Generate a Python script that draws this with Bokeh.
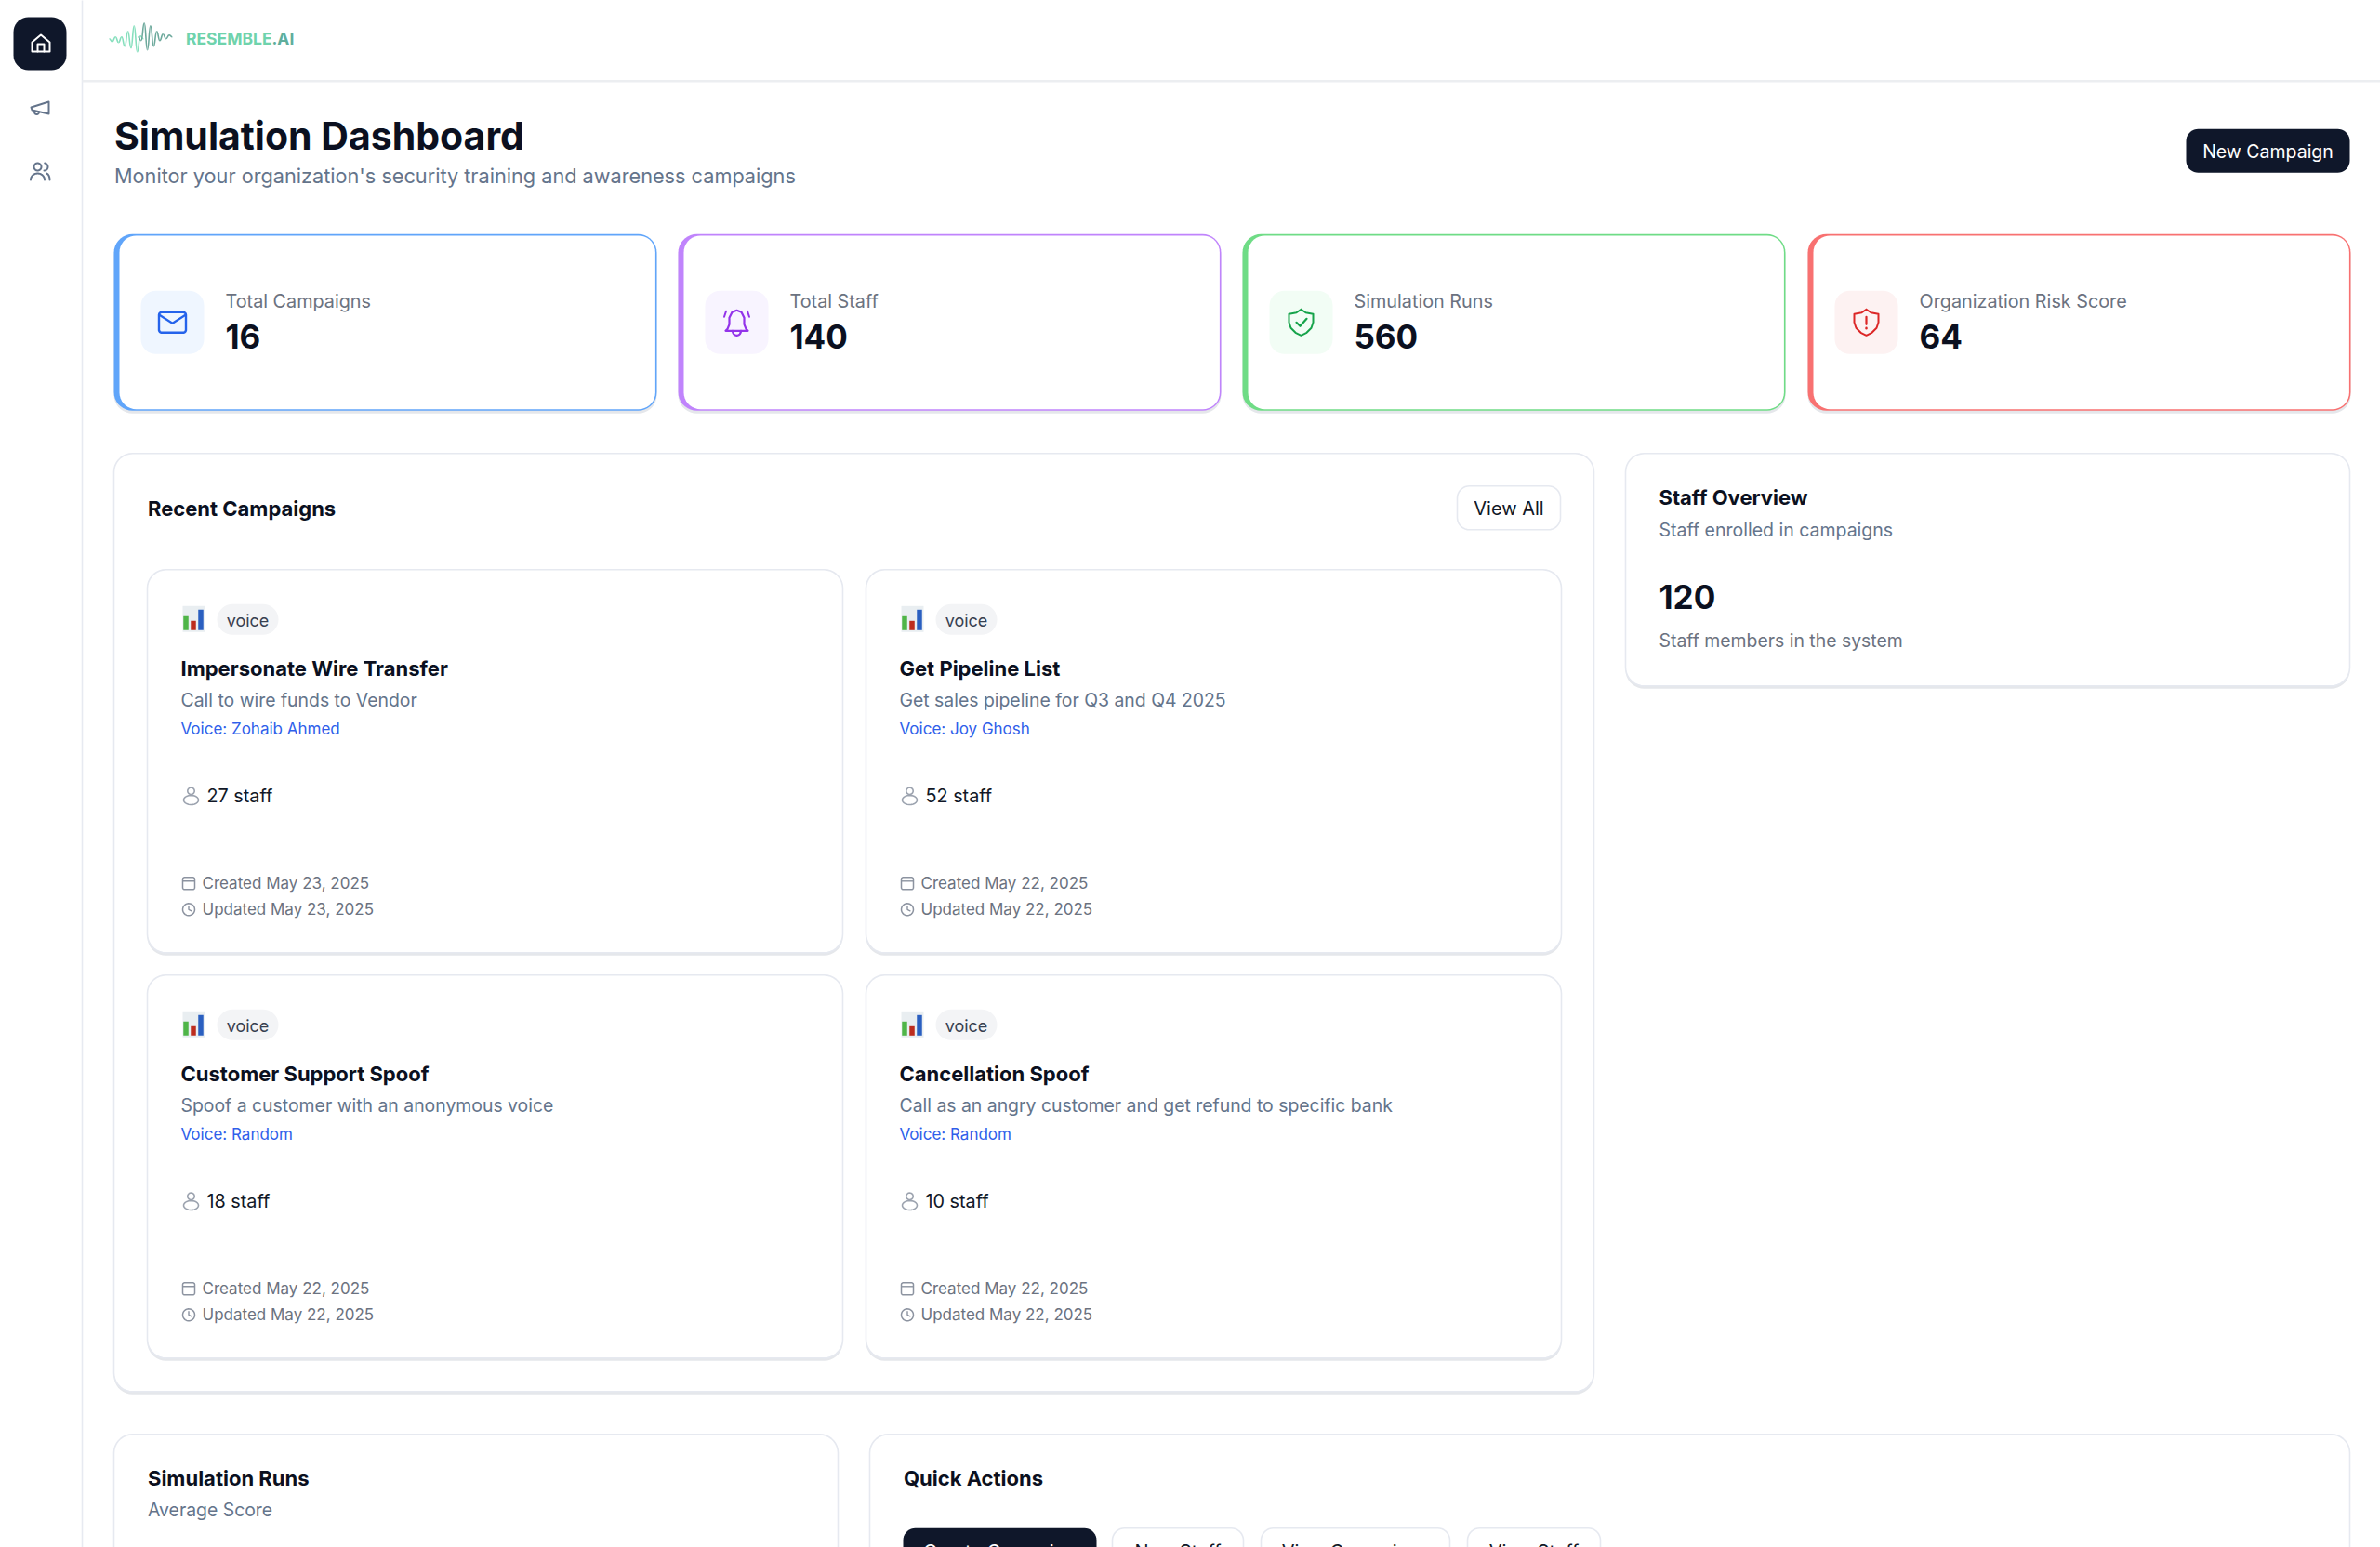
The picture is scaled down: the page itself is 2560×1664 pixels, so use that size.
import numpy as np
from bokeh.core.properties import value
from bokeh.embed import file_html
from bokeh.models import Range1d
from bokeh.plotting import figure
from bokeh.resources import INLINE

# values
stat_labels = ["Total Campaigns", "Total Staff", "Simulation Runs", "Organization Risk Score"]
stat_values = [16, 140, 560, 64]

campaign_titles = ["Impersonate Wire Transfer", "Get Pipeline List", "Customer Support Spoof", "Cancellation Spoof"]
campaign_descs = ["Call to wire funds to Vendor", "Get sales pipeline for Q3 and Q4 2025",
                  "Spoof a customer with an anonymous voice", "Call as an angry customer and get refund to specific bank"]
campaign_voices = ["Zohaib Ahmed", "Joy Ghosh", "Random", "Random"]
campaign_staff = [27, 52, 18, 10]
campaign_created = ["May 23, 2025", "May 22, 2025", "May 22, 2025", "May 22, 2025"]
campaign_updated = ["May 23, 2025", "May 22, 2025", "May 22, 2025", "May 22, 2025"]

staff_total = 120
action_labels = ["Create Campaign", "New Staff", "View Campaigns", "View Staff"]
emoji_bars = [15, 10, 22]
wave_light = [0, -3, 2, -4, 2, -8, 8, -10, 14, -14, 3, 0]
wave_dark = [2, -2, 17, -12, 14, -8, 8, -2, 5, 0, 4, 2]

FONT = "Inter"
DARK = "#0f172a"
INK = "#111827"
GREY = "#6b7280"
SLATE = "#64748b"
BORDER = "#e6e9f0"

# page pixels are used as data units, y runs downwards
p = figure(width=2560, height=1664, output_backend="svg", toolbar_location=None,
           x_range=Range1d(1, 2561), y_range=Range1d(1664.7, 0.7),
           x_axis_type=None, y_axis_type=None, min_border=0)
p.xgrid.visible = False
p.ygrid.visible = False
p.outline_line_color = None
p.background_fill_color = "white"


def rrect(x0, y0, x1, y1, r):
    xs, ys = [], []
    for cx, cy, a in [(x1 - r, y0 + r, -90), (x1 - r, y1 - r, 0), (x0 + r, y1 - r, 90), (x0 + r, y0 + r, 180)]:
        t = np.radians(np.linspace(a, a + 90, 10))
        xs += list(cx + r * np.cos(t))
        ys += list(cy + r * np.sin(t))
    return xs, ys


def box(x0, y0, x1, y1, r, fill="white", line=None, lw=1.6):
    xs, ys = rrect(x0, y0, x1, y1, r)
    p.patch(xs, ys, fill_color=fill, line_color=line, line_width=lw)


def card(x0, y0, x1, y1, r=20):
    # soft shadow first, then the card itself
    box(x0, y0 + 3, x1, y1 + 3, r, fill="#e5e7eb", line=None)
    box(x0, y0, x1, y1, r, fill="white", line=BORDER)


def label(x, y, txt, size, color=INK, bold=False, align="left"):
    p.text([x], [y], text=[txt], text_font=value(FONT), text_font_size=f"{size}px", text_color=color,
           text_font_style="bold" if bold else "normal", text_align=align, text_baseline="middle")


def stroke(x0, y0, pts, color, lw=2.0):
    p.line([x0 + a for a, b in pts], [y0 + b for a, b in pts], line_color=color, line_width=lw,
           line_cap="round", line_join="round")


def arc(cx, cy, rx, ry, a0, a1, color, lw=2.0):
    t = np.radians(np.linspace(a0, a1, 24))
    p.line(cx + rx * np.cos(t), cy + ry * np.sin(t), line_color=color, line_width=lw, line_cap="round")


def wave(x0, y0, vals, dx, color):
    # each value is a crest or trough, so the curve leaves it flat
    xs = [x0 + i * dx for i in range(len(vals))]
    ys = [y0 - v for v in vals]
    mid = [(a + b) / 2 for a, b in zip(xs[:-1], xs[1:])]
    p.bezier(x0=xs[:-1], y0=ys[:-1], x1=xs[1:], y1=ys[1:], cx0=mid, cy0=ys[:-1], cx1=mid, cy1=ys[1:],
             line_color=color, line_width=1.6)


# sidebar and header
p.line([89, 89], [0, 1665], line_color="#e7eaf1", line_width=1.6)
p.line([89, 2561], [87.5, 87.5], line_color="#eceef1", line_width=2.4)
box(15, 18.7, 72, 75.7, 16, fill=DARK)
stroke(1, 0.7, [(34, 45), (43.5, 37), (53, 45), (53, 55), (34, 55), (34, 45)], "white")
stroke(1, 0.7, [(40, 55), (40, 47), (47, 47), (47, 55)], "white")
stroke(1, 0.7, [(33, 115), (52, 109), (52, 122), (34, 118), (33, 115)], SLATE)
arc(40, 120.7, 2.5, 2.5, 0, 200, SLATE)
arc(41, 179.7, 4, 4, 0, 360, SLATE)
arc(41, 193.7, 7.5, 7, 180, 360, SLATE)
arc(48, 179.7, 4, 4, -80, 90, SLATE)
arc(50, 193.7, 4, 7, -80, 0, SLATE)

# logo
wave(118, 42, wave_light, 3.35, "#86dfbd")
wave(149, 42, wave_dark, 3.35, "#6da99c")
label(200.5, 41.5, "RESEMBLE", 17.5, "#6fd3ac", True)
label(293, 41.5, ".AI", 17.5, "#5fae9c", True)

# page heading
label(123.5, 146.5, "Simulation Dashboard", 41, "#0b1020", True)
label(123.5, 189, "Monitor your organization's security training and awareness campaigns", 21.7, SLATE)
box(2352, 139, 2528, 186, 13, fill=DARK)
label(2440, 163, "New Campaign", 19.5, "white", False, "center")

# stat cards
stat_x = [123, 730, 1337, 1945]
stat_edge = ["#60a5fa", "#c084fc", "#6fdc86", "#f87171"]
stat_tint = ["#eff6ff", "#f8f4ff", "#f2fdf5", "#fdf2f2"]
stat_icon = ["#2563eb", "#9333ea", "#16a34a", "#dc2626"]
shield = [(0, -14), (5, -10.5), (13, -9), (13, 0), (11, 6), (6, 11), (0, 14), (-6, 11), (-11, 6), (-13, 0),
          (-13, -9), (-5, -10.5), (0, -14)]
for i, x in enumerate(stat_x):
    w = 584
    box(x, 255, x + w, 445, 20, fill="#e5e7eb")
    box(x, 252, x + w, 442, 20, fill=stat_edge[i])
    box(x + 6, 253.6, x + w - 1.6, 440.4, 18, fill="white")
    box(x + 29, 313, x + 97, 381, 16, fill=stat_tint[i])
    ic = x + 63
    col = stat_icon[i]
    if i == 0:
        box(ic - 14.5, 336, ic + 14.5, 358, 3, fill=None, line=col, lw=2.4)
        stroke(ic, 336, [(-14, 3), (0, 12), (14, 3)], col, 2.2)
    elif i == 1:
        stroke(ic, 347, [(-10, 7), (-8, 2), (-8, -5), (-5, -11), (0, -13), (5, -11), (8, -5), (8, 2), (10, 7), (12, 9),
                         (-12, 9), (-10, 7)], col, 2.2)
        arc(ic, 356, 4.5, 5, 0, 180, col, 2.2)
        stroke(ic, 347, [(-13.5, -6), (-11.5, -12)], col, 2.0)
        stroke(ic, 347, [(13.5, -6), (11.5, -12)], col, 2.0)
    else:
        stroke(ic, 347, shield, col, 2.0)
        if i == 2:
            stroke(ic, 347, [(-5, 0), (-1, 4), (6, -4)], col, 2.2)
        else:
            stroke(ic, 347, [(0, -6), (0, 2)], col, 2.2)
            stroke(ic, 347, [(0, 6), (0, 6.5)], col, 2.4)
    label(x + 120, 324.5, stat_labels[i], 19.8, GREY)
    label(x + 120, 362, str(stat_values[i]), 35, "#0b1020", True)

# recent campaigns panel
card(123, 488, 1715, 1497)
label(159.5, 547, "Recent Campaigns", 22, "#0b1020", True)
box(1568, 523, 1679, 570, 13, fill="white", line=BORDER)
label(1623.5, 547, "View All", 20, INK, False, "center")

grey_icon = "#8c93a0"
for i in range(4):
    cx = [159, 932][i % 2]
    cy = [613, 1049][i // 2]
    card(cx, cy, cx + 748, cy + 412)
    tx = cx + 36
    # chart emoji
    p.quad(left=[tx + 2], right=[tx + 26], top=[cy + 39], bottom=[cy + 67], fill_color="#e9eef1", line_color=None)
    for j, h in enumerate(emoji_bars):
        col = ["#4fb548", "#bd2c1e", "#2a5fc0"][j]
        p.vbar(x=[tx + 5.5 + j * 8], width=5.5, bottom=[cy + 65], top=[cy + 65 - h], fill_color=col, line_color=None)
    box(cx + 75, cy + 37, cx + 141, cy + 70, 16.5, fill="#f3f4f6")
    label(cx + 108, cy + 54.5, "voice", 18, "#374151", False, "center")
    label(tx, cy + 106, campaign_titles[i], 22, "#0b1020", True)
    label(tx, cy + 140.5, campaign_descs[i], 19.4, SLATE)
    label(tx, cy + 171.5, "Voice: " + campaign_voices[i], 17, "#2f5fea")
    # staff row
    arc(tx + 11, cy + 238, 3.7, 3.7, 0, 360, "#9ca3af", 1.6)
    arc(tx + 11, cy + 247.7, 8, 5, 0, 360, "#9ca3af", 1.6)
    label(tx + 28, cy + 243, f"{campaign_staff[i]} staff", 19.8, INK)
    # dates
    box(tx + 2, cy + 331, tx + 15, cy + 344, 2, fill=None, line=grey_icon, lw=1.5)
    p.line([tx + 2, tx + 15], [cy + 335, cy + 335], line_color=grey_icon, line_width=1.4)
    label(tx + 23, cy + 337.5, "Created " + campaign_created[i], 17, GREY)
    arc(tx + 8.5, cy + 365.5, 6.5, 6.5, 0, 360, grey_icon, 1.5)
    stroke(tx + 8.5, cy + 365.5, [(0, -3.5), (0, 0), (3, 1.5)], grey_icon, 1.4)
    label(tx + 23, cy + 365.5, "Updated " + campaign_updated[i], 17, GREY)

# staff overview
card(1749, 488, 2528, 738)
label(1785, 535.5, "Staff Overview", 22, "#0b1020", True)
label(1785, 570, "Staff enrolled in campaigns", 19.5, SLATE)
label(1785, 642, str(staff_total), 35, "#0b1020", True)
label(1785, 689, "Staff members in the system", 19.4, GREY)

# bottom row, cut off by the window
card(123, 1543, 902, 1720)
label(159.5, 1590, "Simulation Runs", 22, "#0b1020", True)
label(159.5, 1624, "Average Score", 19.4, SLATE)
card(936, 1543, 2528, 1720)
label(972.5, 1590, "Quick Actions", 22, "#0b1020", True)
action_x0 = [972, 1197, 1357, 1579]
action_x1 = [1180, 1338, 1560, 1722]
for i, txt in enumerate(action_labels):
    first = i == 0
    box(action_x0[i], 1644, action_x1[i], 1700, 13, fill=DARK if first else "white", line=None if first else BORDER)
    label((action_x0[i] + action_x1[i]) / 2, 1669, txt, 20, "white" if first else INK, False, "center")

open("out.html", "w").write(file_html(p, INLINE))
